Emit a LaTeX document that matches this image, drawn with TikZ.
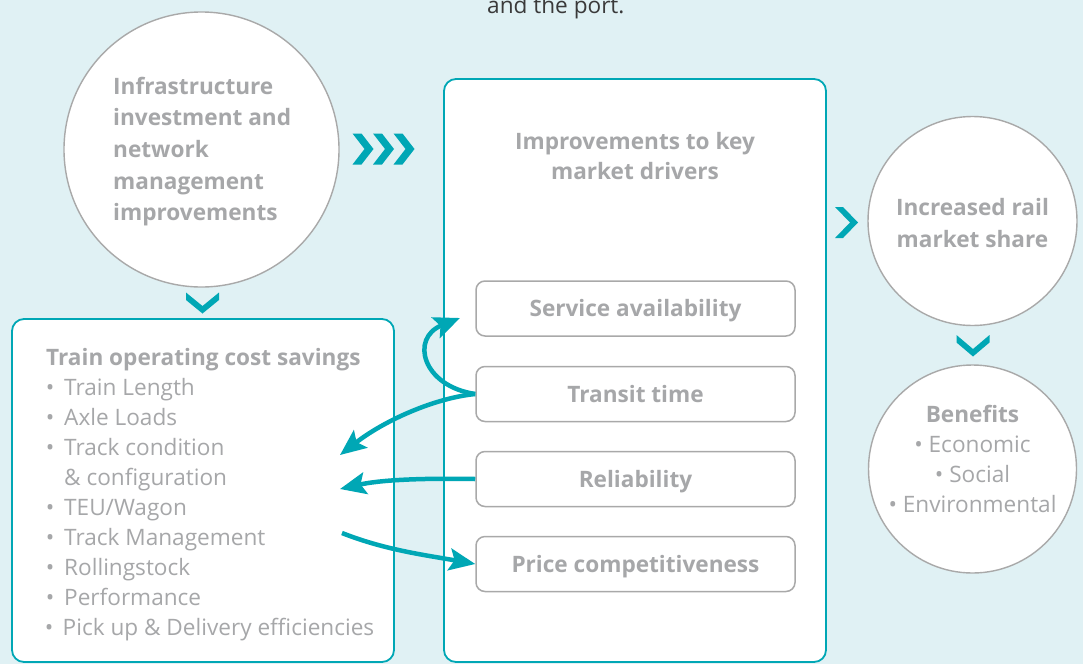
\documentclass[tikz,border=0pt]{standalone}
\usepackage{fontspec}
\setmainfont{Open Sans}
\usetikzlibrary{arrows.meta}
\definecolor{bgc}{HTML}{E0F1F4}
\definecolor{tealc}{HTML}{00A7B5}
\definecolor{gtext}{HTML}{A6A7A9}
\definecolor{gline}{HTML}{A9A9A9}
\definecolor{dtext}{HTML}{3A3A3A}
\tikzset{
  bigcircle/.style={circle, draw=gline, fill=white, line width=1.4pt, inner sep=0pt},
  tealbox/.style={draw=tealc, fill=white, line width=1.8pt, rounded corners=12pt, inner sep=0pt},
  subbox/.style={draw=gline, fill=white, line width=1.5pt, rounded corners=9pt, minimum width=319pt, minimum height=55pt, inner sep=0pt,
     text=gtext, font=\fontsize{22.6}{27}\selectfont\bfseries, text height=16pt, text depth=0pt},
  btxt/.style={text=gtext, font=\fontsize{22.6}{27}\selectfont\bfseries, inner sep=0pt},
  rtxt/.style={text=gtext, font=\fontsize{22.6}{27}\selectfont, inner sep=0pt},
  flow/.style={draw=tealc, line width=4.5pt, -{Stealth[length=26pt,width=22pt,inset=5pt]}},
  chev/.style={fill=tealc, draw=none}
}
\begin{document}
\begin{tikzpicture}[x=1pt,y=-1pt]
\useasboundingbox (0,0) rectangle (1083,664);
\clip (0,0) rectangle (1083,664);
\fill[bgc] (0,0) rectangle (1083,664);

% top text
\node[text=dtext, font=\fontsize{22.6}{27}\selectfont, inner sep=0pt, anchor=base west] (toptxt) at (487,13) {and the port.};

% left circle
\node[bigcircle, minimum size=275pt] (infra) at (201.5,149.5) {};
\foreach \t [count=\i from 0] in {Infrastructure, investment and, network, management, improvements}
  \node[btxt, anchor=base west] (infra\i) at (113,94+31.7*\i) {\t};

% triple chevron
\foreach \k in {0,1,2}
  \fill[chev] (352.5+20.5*\k,133.5) -- ++(9,0) -- ++(12,15.5) -- ++(-12,15.5) -- ++(-9,0) -- ++(12,-15.5) -- cycle;

% middle box
\node[tealbox, minimum width=382pt, minimum height=583pt] (mid) at (635,370.5) {};
\node[btxt, anchor=base] (midt1) at (635,149) {Improvements to key};
\node[btxt, anchor=base] (midt2) at (635,179) {market drivers};

\node[subbox] (svc) at (635.5,308.5) {Service availability};
\node[subbox] (transit) at (635.5,394) {Transit time};
\node[subbox] (rel) at (635.5,479) {Reliability};
\node[subbox] (price) at (635.5,564) {Price competitiveness};

% right single chevron
\fill[chev] (835,207) -- ++(8,0) -- ++(15,15.5) -- ++(-15,15.5) -- ++(-8,0) -- ++(15,-15.5) -- cycle;

% right circles
\node[bigcircle, minimum size=209pt] (share) at (972.5,221) {};
\node[btxt, anchor=base] (share1) at (972.5,215.5) {Increased rail};
\node[btxt, anchor=base] (share2) at (972.5,247) {market share};

\fill[chev] (956.5,335) -- ++(16.5,14) -- ++(16.5,-14) -- ++(0,7.5) -- ++(-16.5,14) -- ++(-16.5,-14) -- cycle;

\node[bigcircle, minimum size=208pt] (ben) at (972.5,469) {};
\node[btxt, anchor=base] (ben0) at (972.5,422) {Benefits};
\node[rtxt, anchor=base] (ben1) at (972.5,452) {• Economic};
\node[rtxt, anchor=base] (ben2) at (972.5,482) {• Social};
\node[rtxt, anchor=base] (ben3) at (972.5,512) {• Environmental};

% down chevron under left circle
\fill[chev] (186,292.5) -- ++(16.5,13.5) -- ++(16.5,-13.5) -- ++(0,7.5) -- ++(-16.5,13.5) -- ++(-16.5,-13.5) -- cycle;

% left box
\node[tealbox, minimum width=382pt, minimum height=343pt] (cost) at (203,490.5) {};
\node[btxt, anchor=base west] (costt) at (46,365.5) {Train operating cost savings};
\foreach \t/\b [count=\i from 0] in {Train Length/1, Axle Loads/1, Track condition/1, {\& configuration}/0, {TEU/Wagon}/1, Track Management/1, Rollingstock/1, Performance/1, {Pick up \& Delivery efficiencies}/2}{
  \ifnum\b=2
    \node[rtxt, anchor=base west] (item\i) at (62.5,395.5+30*\i) {\t};
    \node[rtxt, anchor=base] (bul\i) at (49,395.5+30*\i) {•};
  \else
    \node[rtxt, anchor=base west] (item\i) at (64,395.5+30*\i) {\t};
    \ifnum\b=1 \node[rtxt, anchor=base] (bul\i) at (50,395.5+30*\i) {•}; \fi
  \fi
}

% connectors
\coordinate (tip1) at (460,318);
\coordinate (tip2) at (340,455);
\coordinate (tip3) at (340,489);
\draw[flow] (transit.west) .. controls (422,386) and (410,338) .. (tip1);
\draw[flow] (transit.west) .. controls (435,398) and (385,420) .. (tip2);
\draw[flow] (rel.west) .. controls (420,478) and (380,480) .. (tip3);
\coordinate (src4) at (342,533);
\draw[flow] (src4) .. controls (385,550) and (425,555) .. (price.west);
\end{tikzpicture}
\end{document}
